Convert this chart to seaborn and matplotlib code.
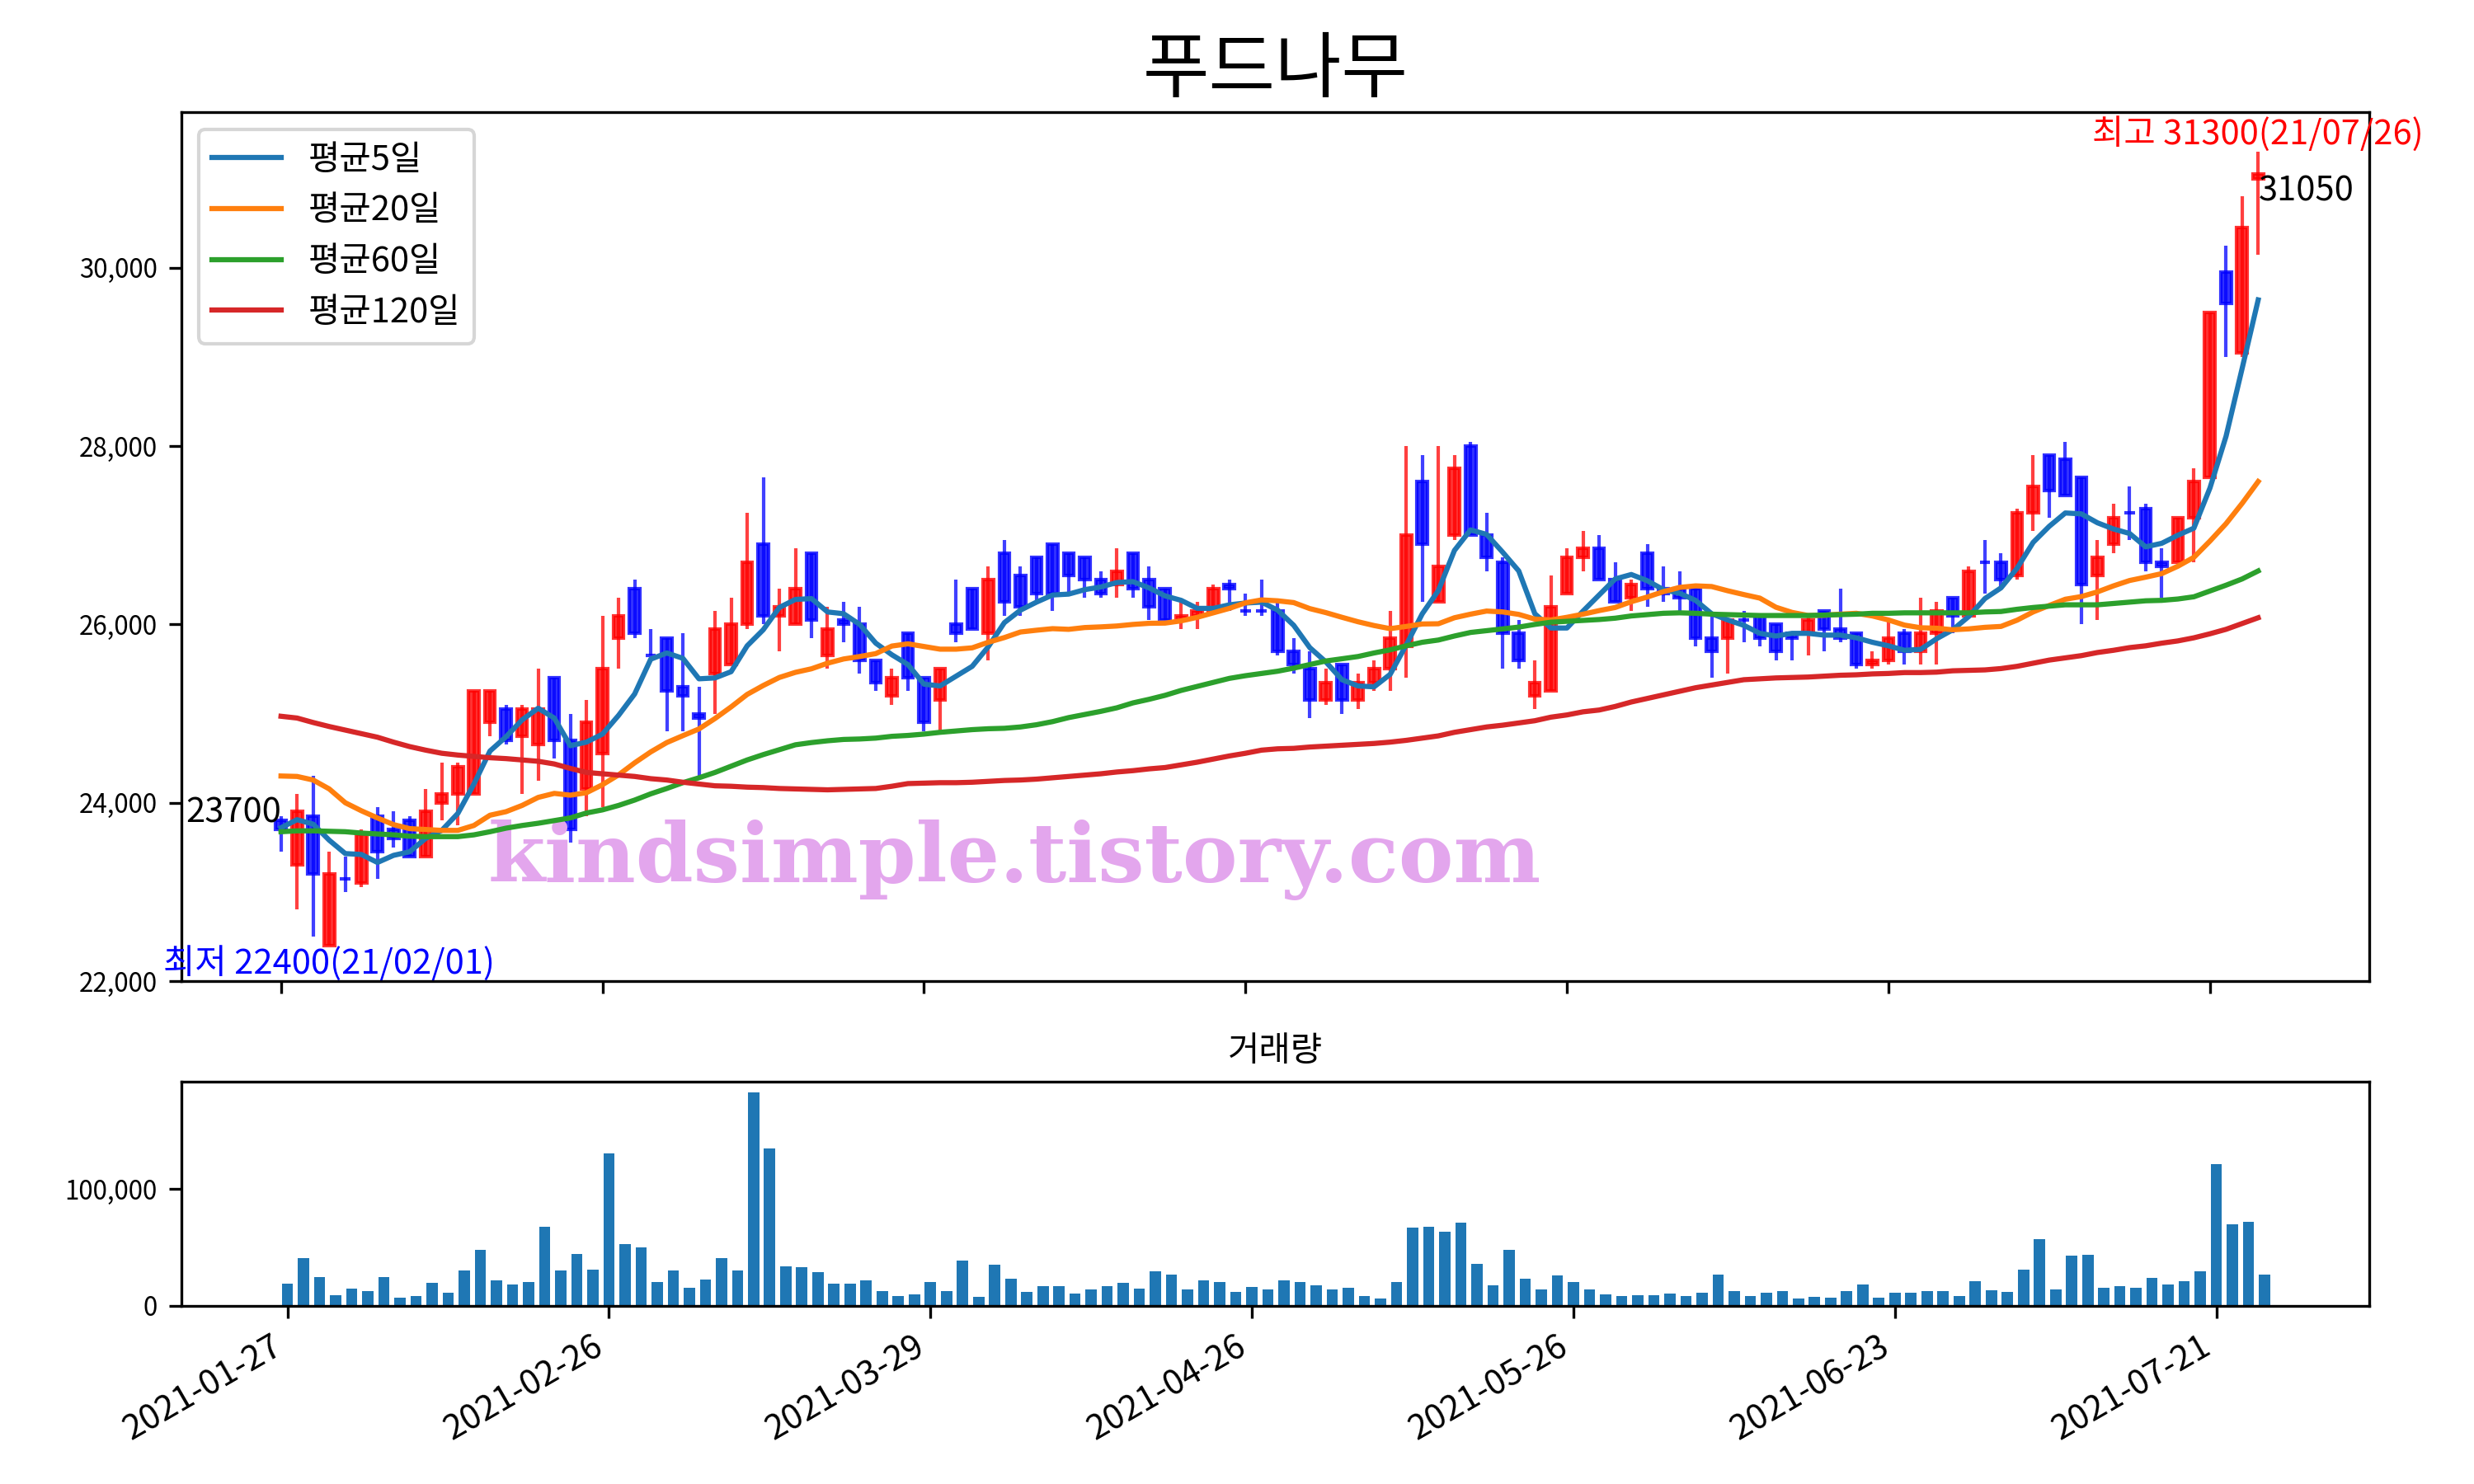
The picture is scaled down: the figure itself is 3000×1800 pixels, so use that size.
import numpy as np
import pandas as pd
import seaborn as sns
import matplotlib.pyplot as plt
from matplotlib.ticker import FuncFormatter

plt.rcParams['font.family'] = ['Noto Sans CJK KR', 'DejaVu Sans']
plt.rcParams['axes.unicode_minus'] = False

title = '푸드나무'
watermark = 'kindsimple.tistory.com'

# 거래일 (한국 휴장일 제외)
holidays = ['2021-02-11', '2021-02-12', '2021-03-01', '2021-05-05', '2021-05-19']
dates = pd.bdate_range('2021-01-27', '2021-07-26', freq='C', holidays=holidays)

opens = [23800, 23300, 23850, 22400, 23150, 23100, 23850, 23700, 23800, 23400,
         24000, 24100, 24100, 24900, 25050, 24750, 24650, 25400, 24700, 24150,
         24550, 25850, 26400, 25650, 25850, 25300, 25000, 25450, 25550, 26000,
         26900, 26100, 26000, 26800, 25650, 26050, 26000, 25600, 25200, 25900,
         25400, 25150, 26000, 26400, 25900, 26800, 26550, 26750, 26900, 26800,
         26750, 26500, 26450, 26800, 26500, 26400, 26050, 26100, 26150, 26450,
         26150, 26150, 26150, 25700, 25500, 25150, 25550, 25150, 25350, 25500,
         25750, 27600, 26250, 27000, 28000, 27000, 26700, 25900, 25200, 25250,
         26350, 26750, 26850, 26500, 26300, 26800, 26400, 26400, 26400, 25850,
         25850, 26050, 26100, 26000, 25900, 25900, 26150, 25950, 25900, 25550,
         25600, 25900, 25700, 25900, 26300, 26100, 26700, 26700, 26550, 27250,
         27900, 27850, 27650, 26550, 26900, 27250, 27300, 26700, 26700, 27200,
         27650, 29950, 29050, 31000]
highs = [23850, 24100, 24300, 23450, 23400, 23700, 23950, 23900, 23850, 24150,
         24450, 24450, 25250, 25250, 25100, 25100, 25500, 25400, 25000, 25150,
         26100, 26300, 26500, 25950, 25850, 25900, 25300, 26150, 26300, 27250,
         27650, 26400, 26850, 26800, 26200, 26250, 26200, 25600, 25500, 25900,
         25400, 25500, 26500, 26400, 26650, 26950, 26650, 26750, 26900, 26800,
         26750, 26600, 26850, 26800, 26650, 26400, 26250, 26250, 26450, 26500,
         26350, 26500, 26250, 25850, 25700, 25500, 25550, 25450, 25600, 26150,
         28000, 27900, 28000, 27900, 28050, 27250, 26750, 26050, 25600, 26550,
         26850, 27050, 27000, 26700, 26500, 26900, 26650, 26600, 26400, 26100,
         26050, 26150, 26100, 26000, 25900, 26100, 26150, 26400, 25900, 25700,
         26050, 25950, 26300, 26250, 26300, 26650, 26950, 26800, 27300, 27900,
         27900, 28050, 27650, 26950, 27350, 27550, 27350, 26850, 27200, 27750,
         29500, 30250, 30800, 31300]
lows = [23450, 22800, 22500, 22400, 23000, 23050, 23150, 23500, 23400, 23400,
        23800, 23750, 24100, 24750, 24650, 24100, 24250, 24500, 23550, 23850,
        23950, 25500, 25850, 25650, 24800, 24800, 24300, 25000, 25550, 25950,
        26000, 25700, 26000, 25850, 25500, 25800, 25450, 25250, 25100, 25250,
        24800, 24800, 25800, 25950, 25600, 26100, 26100, 26250, 26150, 26350,
        26300, 26300, 26300, 26300, 26050, 26050, 25950, 25950, 26150, 26150,
        26100, 26100, 25650, 25450, 24950, 25100, 25000, 25050, 25250, 25250,
        25400, 26250, 26250, 26950, 27000, 26600, 25500, 25500, 25050, 25250,
        26350, 26600, 26500, 26250, 26150, 26200, 26250, 26150, 25750, 25400,
        25450, 25800, 25750, 25600, 25600, 25650, 25700, 25800, 25500, 25500,
        25550, 25550, 25550, 25550, 25900, 26100, 26350, 26400, 26500, 27050,
        27200, 27450, 26000, 26050, 26800, 26950, 26600, 26300, 26700, 26700,
        27650, 29000, 29000, 30150]
closes = [23700, 23900, 23200, 23200, 23150, 23650, 23450, 23600, 23400, 23900,
          24100, 24400, 25250, 25250, 24700, 25050, 25050, 24700, 23700, 24900,
          25500, 26100, 25900, 25650, 25250, 25200, 24950, 25950, 26000, 26700,
          26100, 26200, 26400, 26050, 25950, 26000, 25600, 25350, 25400, 25400,
          24900, 25500, 25900, 25950, 26500, 26250, 26200, 26350, 26350, 26550,
          26500, 26350, 26600, 26400, 26200, 26050, 26100, 26150, 26400, 26400,
          26150, 26150, 25700, 25550, 25150, 25350, 25150, 25350, 25500, 25850,
          27000, 26900, 26650, 27750, 27000, 26750, 25900, 25600, 25350, 26200,
          26750, 26850, 26500, 26250, 26450, 26400, 26350, 26300, 25850, 25700,
          26050, 26050, 25850, 25700, 25850, 26050, 25950, 25850, 25550, 25600,
          25850, 25700, 25900, 26150, 26100, 26600, 26700, 26500, 27250, 27550,
          27500, 27450, 26450, 26750, 27200, 27250, 26700, 26650, 27200, 27600,
          29500, 29600, 30450, 31050]
volume = [18900, 40900, 24600, 9000, 14700, 12500, 24600, 6900, 8300, 19600,
          11100, 30300, 48000, 21700, 18200, 20300, 67800, 30300, 44400, 31000,
          130300, 53000, 50100, 20300, 30300, 15400, 22500, 40900, 30300, 182700,
          134500, 33800, 33100, 28800, 18900, 18900, 21700, 12500, 8300, 9700,
          20300, 12500, 38800, 7600, 35200, 23200, 11800, 16800, 16800, 10400,
          13900, 16800, 19600, 14700, 29600, 26700, 13900, 21700, 20300, 11800,
          16100, 13900, 21700, 20300, 17500, 13900, 15400, 8300, 6100, 20300,
          67100, 67800, 63600, 71400, 35900, 17500, 48000, 23200, 13900, 26000,
          20300, 13900, 9700, 8300, 9000, 9000, 10400, 8300, 11100, 26700,
          12500, 8300, 11100, 12500, 6100, 7600, 6900, 12500, 18200, 6900,
          11100, 11100, 12500, 12500, 8300, 21000, 13200, 11800, 31000, 57200,
          13900, 43000, 43700, 15400, 16800, 15400, 23900, 18200, 21000, 29600,
          121000, 70000, 72100, 26700]

# 이동평균: 기간 초반(이전 데이터 필요)은 차트에서 읽은 값
ma5_head = [23720, 23810, 23760, 23580]
ma20_head = [24300, 24295, 24255, 24155, 24000, 23910, 23830, 23755, 23710, 23700,
             23690, 23690, 23745, 23860, 23900, 23970, 24060, 24105, 24085]
ma60 = [23675, 23685, 23685, 23680, 23675, 23660, 23650, 23640, 23625, 23620,
        23620, 23620, 23640, 23675, 23715, 23745, 23770, 23800, 23830, 23885,
        23920, 23970, 24030, 24100, 24160, 24225, 24280, 24340, 24410, 24480,
        24540, 24595, 24650, 24675, 24695, 24710, 24715, 24725, 24745, 24755,
        24770, 24790, 24805, 24820, 24830, 24835, 24850, 24875, 24910, 24955,
        24990, 25025, 25065, 25120, 25160, 25205, 25260, 25305, 25350, 25395,
        25425, 25450, 25475, 25510, 25550, 25590, 25615, 25640, 25680, 25715,
        25760, 25800, 25825, 25870, 25910, 25930, 25950, 25970, 26000, 26025,
        26035, 26045, 26055, 26070, 26095, 26110, 26125, 26130, 26125, 26115,
        26110, 26105, 26100, 26100, 26100, 26100, 26105, 26110, 26115, 26125,
        26125, 26130, 26130, 26130, 26130, 26130, 26140, 26145, 26170, 26190,
        26205, 26220, 26220, 26220, 26235, 26250, 26265, 26270, 26285, 26310,
        26375, 26440, 26510, 26600]
ma120 = [24970, 24950, 24900, 24855, 24815, 24775, 24735, 24680, 24630, 24590,
         24555, 24535, 24520, 24505, 24495, 24480, 24465, 24435, 24385, 24340,
         24325, 24310, 24295, 24270, 24255, 24230, 24210, 24190, 24185, 24175,
         24170, 24160, 24155, 24150, 24145, 24150, 24155, 24160, 24185, 24215,
         24220, 24225, 24225, 24230, 24240, 24250, 24255, 24265, 24280, 24295,
         24310, 24325, 24345, 24360, 24380, 24395, 24425, 24455, 24490, 24525,
         24555, 24590, 24605, 24610, 24625, 24635, 24645, 24655, 24665, 24680,
         24700, 24725, 24750, 24790, 24820, 24850, 24870, 24895, 24920, 24960,
         24985, 25020, 25040, 25080, 25130, 25170, 25210, 25250, 25290, 25320,
         25350, 25380, 25390, 25400, 25405, 25410, 25420, 25430, 25435, 25445,
         25450, 25460, 25460, 25465, 25480, 25485, 25490, 25505, 25530, 25565,
         25600, 25625, 25650, 25685, 25710, 25740, 25760, 25790, 25815, 25850,
         25895, 25945, 26010, 26075]

df = pd.DataFrame({'date': dates, 'open': opens, 'high': highs, 'low': lows,
                   'close': closes, 'volume': volume})
df['idx'] = np.arange(len(df))
df['ma5'] = df['close'].rolling(5).mean()
df.loc[:len(ma5_head) - 1, 'ma5'] = ma5_head
df['ma20'] = df['close'].rolling(20).mean()
df.loc[:len(ma20_head) - 1, 'ma20'] = ma20_head
df['ma60'] = ma60
df['ma120'] = ma120

up = df['close'] > df['open']
colors = np.where(up, 'red', 'blue')

fig = plt.figure(figsize=(10, 6), dpi=300)
ax = fig.add_axes([0.0733, 0.3389, 0.8843, 0.5855])
axv = fig.add_axes([0.0733, 0.12, 0.8843, 0.1511])

# 캔들
ax.vlines(df['idx'], df['low'], df['high'], colors=colors, linewidth=1, alpha=0.75, zorder=1)
body_lo = np.minimum(df['open'], df['close'])
body_h = (df['close'] - df['open']).abs()
ax.bar(df['idx'], body_h, bottom=body_lo, width=0.65, color=colors, edgecolor=colors,
       linewidth=1, alpha=0.8, zorder=1.2)

# 이동평균선
for col, name, c in [('ma5', '평균5일', '#1f77b4'), ('ma20', '평균20일', '#ff7f0e'),
                     ('ma60', '평균60일', '#2ca02c'), ('ma120', '평균120일', '#d62728')]:
    sns.lineplot(data=df, x='idx', y=col, color=c, label=name, linewidth=1.5, ax=ax, zorder=3)

ax.text(0.381, 0.139, watermark, transform=ax.transAxes, ha='center', va='center',
        fontsize=24, fontweight='bold', family='DejaVu Serif', color='#e3a6ed', zorder=2)

# 최고/최저 표시
imax = df['high'].idxmax()
imin = df['low'].idxmin()
ax.text(imax, df['high'][imax], '최고 {}({})'.format(df['high'][imax], dates[imax].strftime('%y/%m/%d')),
        color='red', ha='center', va='bottom', fontsize=10)
ax.text(imin, df['low'][imin], '최저 {}({})'.format(df['low'][imin], dates[imin].strftime('%y/%m/%d')),
        color='blue', ha='center', va='top', fontsize=10)
ax.text(0, df['close'].iloc[0], str(df['close'].iloc[0]), ha='right', va='bottom', fontsize=10)
ax.text(df['idx'].iloc[-1], df['close'].iloc[-1], str(df['close'].iloc[-1]), ha='left', va='top', fontsize=10)

ticks = df['idx'][::20]
ax.set_xticks(ticks)
ax.set_xticklabels([])
ax.set_xlim(-6.2, 129.9)
ax.set_yticks([22000, 24000, 26000, 28000, 30000])
ax.yaxis.set_major_formatter(FuncFormatter(lambda v, p: f'{v:,.0f}'))
ax.tick_params(axis='y', labelsize=7.5)
ax.set_xlabel('')
ax.set_ylabel('')
ax.legend(loc='upper left', fontsize=10)
ax.set_title(title, fontsize=21)

# 거래량
sns.barplot(data=df, x='idx', y='volume', native_scale=True, color='#1f77b4', saturation=1,
            width=0.7, errorbar=None, linewidth=0, ax=axv)
axv.set_xlim(-6.6, 129.5)
axv.set_xticks(ticks)
axv.set_xticklabels(dates[::20].strftime('%Y-%m-%d'), rotation=30, ha='right')
axv.set_yticks([0, 100000])
axv.yaxis.set_major_formatter(FuncFormatter(lambda v, p: f'{v:,.0f}'))
axv.tick_params(axis='y', labelsize=7.5)
axv.tick_params(axis='x', labelsize=10)
axv.set_xlabel('')
axv.set_ylabel('')
axv.set_title('거래량', fontsize=10)

fig.savefig('out.png', dpi=300)
